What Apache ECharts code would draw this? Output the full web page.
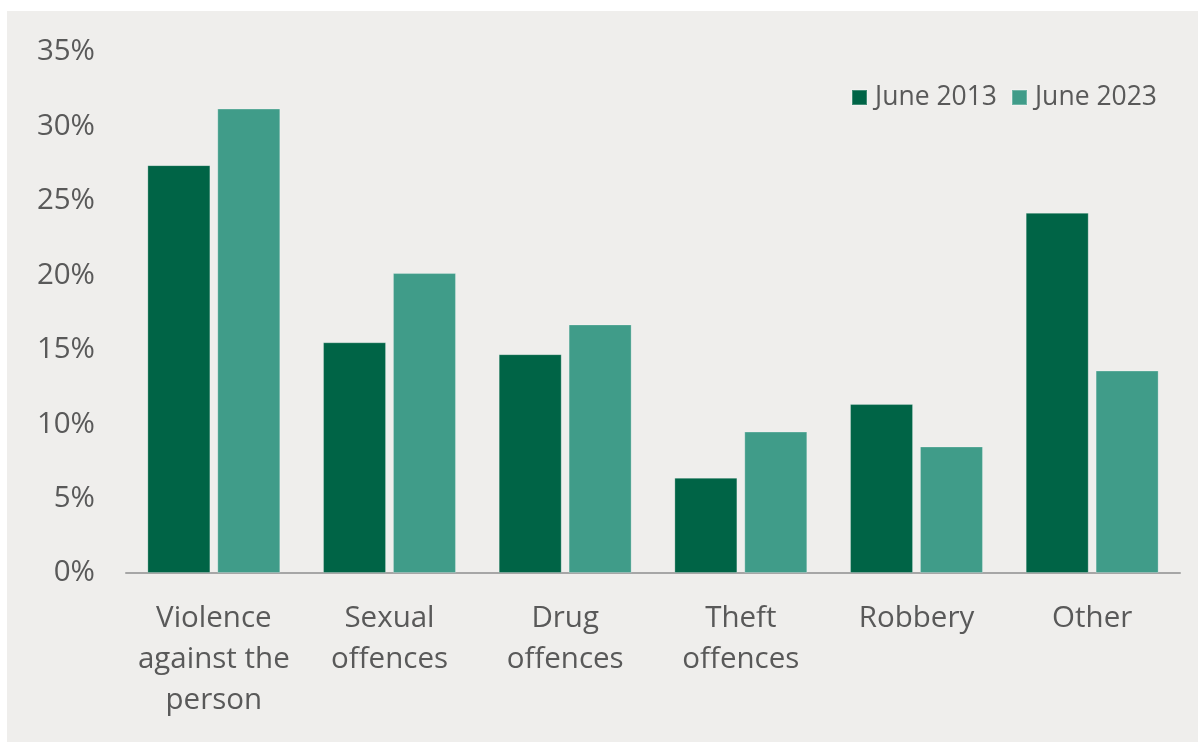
<!DOCTYPE html>
<html>
<head>
<meta charset="utf-8">
<script src="https://cdn.jsdelivr.net/npm/echarts@6/dist/echarts.min.js"></script>
<style>
html,body{margin:0;padding:0;background:#ffffff;}
#chart{width:1200px;height:742px;}
</style>
</head>
<body>
<div id="chart"></div>
<script>
const categories = ["Violence\nagainst the\nperson", "Sexual\noffences", "Drug\noffences", "Theft\noffences", "Robbery", "Other"];
const june2013 = [27.4, 15.5, 14.7, 6.4, 11.35, 24.2];
const june2023 = [31.2, 20.15, 16.7, 9.5, 8.5, 13.6];
const seriesNames = ["June 2013", "June 2023"];

const chart = echarts.init(document.getElementById('chart'), null, {renderer: 'canvas'});
const font = '"Open Sans", "Noto Sans", sans-serif';
chart.setOption({
  backgroundColor: '#ffffff',
  textStyle: {fontFamily: font},
  graphic: [{
    type: 'rect', z: -10, silent: true,
    shape: {x: 7, y: 11, width: 1191, height: 731},
    style: {fill: '#efeeec'}
  }],
  legend: {
    right: 38, top: 79,
    itemWidth: 15, itemHeight: 15, itemGap: 14,
    icon: 'rect',
    textStyle: {fontFamily: font, fontSize: 26.5, color: '#595959', padding: [0,0,0,3]},
    data: seriesNames
  },
  grid: {left: 126, right: 20, top: 52, bottom: 169, containLabel: false},
  xAxis: {
    type: 'category',
    data: categories,
    axisLine: {lineStyle: {color: '#a6a6a6', width: 2}},
    axisTick: {show: false},
    axisLabel: {fontFamily: font, fontSize: 29.5, color: '#595959', lineHeight: 41, margin: 25, interval: 0}
  },
  yAxis: {
    type: 'value',
    min: 0, max: 35, interval: 5,
    splitLine: {show: false},
    axisLine: {show: false},
    axisTick: {show: false},
    axisLabel: {fontFamily: font, fontSize: 29.5, color: '#595959', margin: 31, formatter: '{value}%'}
  },
  series: [
    {
      name: seriesNames[0], type: 'bar', data: june2013,
      barWidth: 63, barGap: '11%',
      itemStyle: {color: '#006446', borderColor: 'rgba(255,255,255,0.25)', borderWidth: 1}
    },
    {
      name: seriesNames[1], type: 'bar', data: june2023,
      barWidth: 63,
      itemStyle: {color: '#409c89', borderColor: 'rgba(255,255,255,0.25)', borderWidth: 1}
    }
  ]
});
</script>
</body>
</html>
